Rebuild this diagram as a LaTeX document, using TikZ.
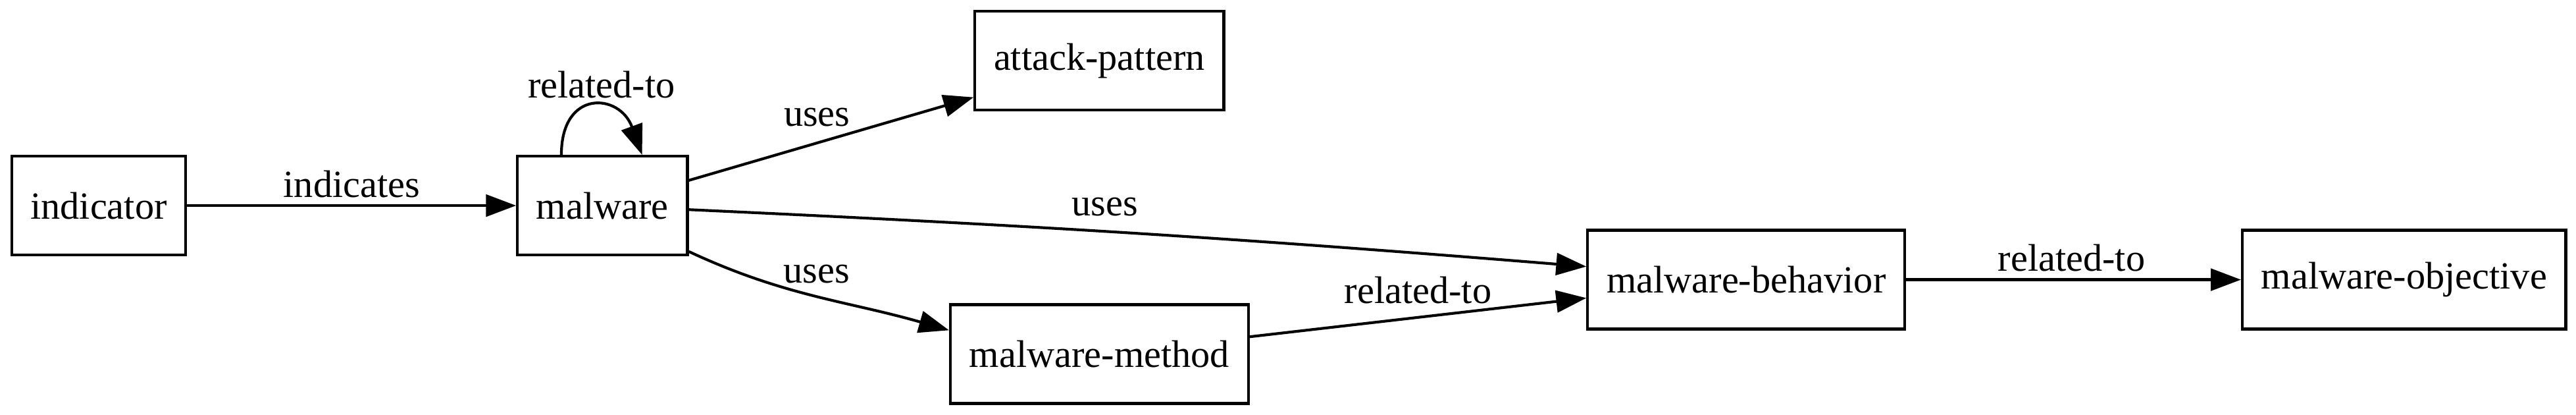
\documentclass[tikz,border=0pt]{standalone}
\usepackage{fontspec}
\setmainfont{Liberation Serif}
\usetikzlibrary{arrows.meta}

\begin{document}
\begin{tikzpicture}[x=1pt,y=1pt,font=\fontsize{14}{16.8}\selectfont]

\useasboundingbox (0,0) rectangle (939.4,151.0);

\begin{scope}[every node/.style={rectangle,draw,line width=1pt,minimum height=36pt,minimum width=54pt,inner xsep=6.9pt}]
	\node (indicator) at (36.0,76.1) {indicator};
	\node (malware) at (219.7,76.1) {malware};
	\node (attack) at (400.9,128.9) {attack-pattern};
	\node (method) at (400.9,22.0) {malware-method};
	\node (behavior) at (636.8,49.1) {malware-behavior};
	\node (objective) at (876.7,49.1) {malware-objective};
\end{scope}

\begin{scope}[>={Triangle[length=11pt,width=8pt]},
every node/.style={anchor=base},
every edge/.style={draw,line width=1pt}]
	\path [->] (indicator) edge node[pos=0.5,yshift=3.1pt] {indicates} (malware);
	\path [->] (malware.129) edge[out=90,in=110,distance=24pt] node[pos=0.5,xshift=3pt,yshift=3.4pt] {related-to} (malware.52);
	\path [->] (malware) edge node[pos=0.45,yshift=6.1pt] {uses} (attack);
	\path [->] (malware) edge[bend left=1] node[pos=0.46,yshift=5.8pt] {uses} (behavior);
	\path [->] (malware.-28) edge[out=-25,in=164] node[pos=0.5,yshift=5pt] {uses} (method.171);
	\path [->] (method) edge node[pos=0.5,yshift=5pt] {related-to} (behavior);
	\path [->] (behavior) edge node[pos=0.494,yshift=3.2pt] {related-to} (objective);
\end{scope}

\end{tikzpicture}
\end{document}
